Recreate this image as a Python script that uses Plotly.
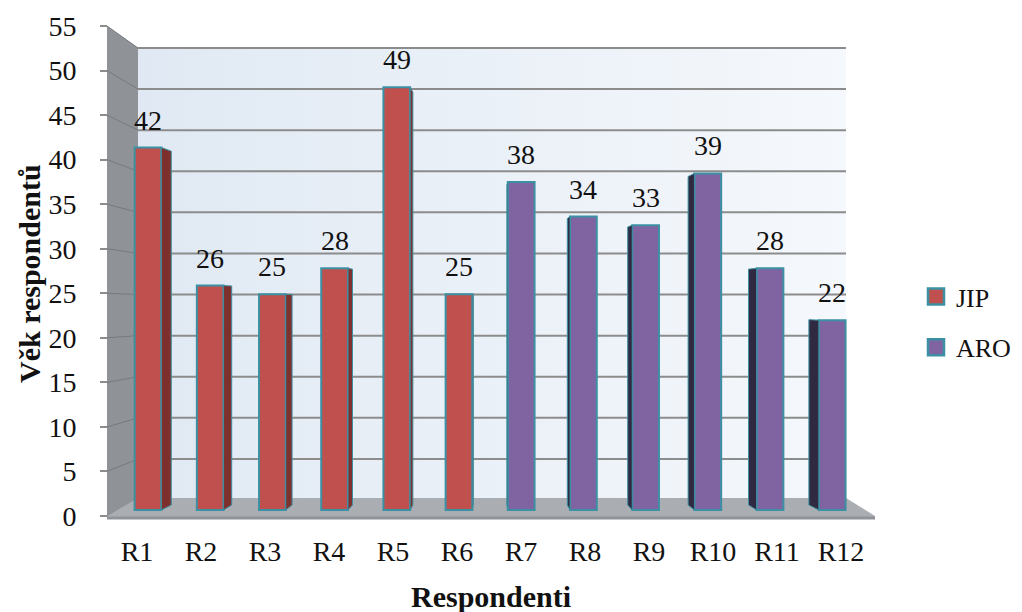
import plotly.graph_objects as go

# ---- data -------------------------------------------------------------
respondents = ["R1", "R2", "R3", "R4", "R5", "R6",
               "R7", "R8", "R9", "R10", "R11", "R12"]
jip_age = [42, 26, 25, 28, 49, 25]          # R1 - R6
aro_age = [38, 34, 33, 39, 28, 22]          # R7 - R12
y_ticks = list(range(0, 56, 5))

# ---- figure geometry (pixels) ---------------------------------------
W, H = 1022, 612
BAR_X0, BAR_DX = 148.0, 62.2      # centre of first bar, bar spacing
BAR_Y0, BAR_DY = 510.0, 8.63      # bar base line, pixels per year
LEFT_X, BACK_X0, BACK_X1, FLOOR_X1 = 107.0, 138.0, 846.0, 875.0
FRONT_Y0, FRONT_K = 516.0, 490.0 / 55    # value scale on front edge (axis)
BACK_Y0, BACK_K = 500.0, 452.0 / 55      # value scale on back wall
LABEL_X0, LABEL_DX = 137.0, 64.0         # category labels on floor edge
VANISH_X, SIDE_K = 490.0, 0.029          # perspective of bar side faces
BAR_W = 0.43

FONT = "Liberation Serif, Times New Roman, serif"
TEXT = "#111111"
JIP_COLOR, JIP_SIDE = "#c0504d", "#7e302e"
ARO_COLOR, ARO_SIDE = "#8064a2", "#2f2941"
EDGE = "#3b91a3"


def ux(px):
    return (px - BAR_X0) / BAR_DX


def uy(py):
    return (BAR_Y0 - py) / BAR_DY


def front_y(v):
    return FRONT_Y0 - v * FRONT_K


def back_y(v):
    return BACK_Y0 - v * BACK_K


def polygon(points):
    xs = [ux(p[0]) for p in points] + [ux(points[0][0])]
    ys = [uy(p[1]) for p in points] + [uy(points[0][1])]
    return xs, ys


X_RANGE = [ux(0), ux(W)]
Y_RANGE = [uy(H), uy(0)]

fig = go.Figure()

# ---- chart walls and floor (base subplot) ----------------------------
bx, by = polygon([(BACK_X0, back_y(55)), (BACK_X1, back_y(55)),
                  (BACK_X1, back_y(0)), (BACK_X0, back_y(0))])
fig.add_trace(go.Scatter(
    x=bx, y=by, mode="lines", fill="toself", line=dict(width=0),
    fillgradient=dict(type="horizontal",
                      colorscale=[[0, "#e0e9f3"], [1, "#f5f8fc"]]),
    hoverinfo="skip", showlegend=False))

wx, wy = polygon([(LEFT_X, front_y(55)), (BACK_X0, back_y(55)),
                  (BACK_X0, back_y(0)), (LEFT_X, front_y(0))])
fig.add_trace(go.Scatter(
    x=wx, y=wy, mode="lines", fill="toself", fillcolor="#8f9296",
    line=dict(width=0), hoverinfo="skip", showlegend=False))

# grid lines on the back wall and on the side wall
gx, gy, sx, sy = [], [], [], []
for v in y_ticks[1:]:
    gx += [ux(BACK_X0), ux(BACK_X1), None]
    gy += [uy(back_y(v)), uy(back_y(v)), None]
for v in y_ticks:
    sx += [ux(LEFT_X), ux(BACK_X0), None]
    sy += [uy(front_y(v)), uy(back_y(v)), None]
fig.add_trace(go.Scatter(x=gx, y=gy, mode="lines",
                         line=dict(color="#8c8c8c", width=2),
                         hoverinfo="skip", showlegend=False))
fig.add_trace(go.Scatter(x=sx, y=sy, mode="lines",
                         line=dict(color="#76797d", width=1),
                         hoverinfo="skip", showlegend=False))

fx, fy = polygon([(LEFT_X, front_y(0)), (BACK_X0, back_y(0) - 2),
                  (BACK_X1, back_y(0) - 2), (FLOOR_X1, front_y(0)),
                  (FLOOR_X1, front_y(0) + 3), (LEFT_X, front_y(0) + 3)])
fig.add_trace(go.Scatter(
    x=fx, y=fy, mode="lines", fill="toself", fillcolor="#aaadb1",
    line=dict(width=0), hoverinfo="skip", showlegend=False))
fig.add_trace(go.Scatter(
    x=[ux(LEFT_X), ux(FLOOR_X1)], y=[uy(front_y(0) + 2)] * 2,
    mode="lines", line=dict(color="#909397", width=3),
    hoverinfo="skip", showlegend=False))

# ---- bars (overlaid subplot) -----------------------------------------
jip_x = list(range(len(jip_age)))
aro_x = list(range(len(jip_age), len(jip_age) + len(aro_age)))


def side_faces(xs, vals):
    px, py = [], []
    for i, v in zip(xs, vals):
        xc = BAR_X0 + BAR_DX * i
        s = SIDE_K * (VANISH_X - xc)
        edge = xc + (BAR_W * BAR_DX / 2) * (1 if s >= 0 else -1)
        top = BAR_Y0 - v * BAR_DY
        top_back = top + 0.5 * (back_y(v) - top)
        pts = [(edge, BAR_Y0), (edge + s, BAR_Y0 - 5),
               (edge + s, top_back), (edge, top), (edge, BAR_Y0)]
        px += [ux(p[0]) for p in pts] + [None]
        py += [uy(p[1]) for p in pts] + [None]
    return px, py


for xs, vals, name, face, side in [
        (jip_x, jip_age, "JIP", JIP_COLOR, JIP_SIDE),
        (aro_x, aro_age, "ARO", ARO_COLOR, ARO_SIDE)]:
    fig.add_trace(go.Bar(
        x=xs, y=vals, name=name, width=BAR_W, xaxis="x2", yaxis="y2",
        marker=dict(color=face, line=dict(color=EDGE, width=2)),
        legendgroup=name, showlegend=False, hoverinfo="skip"))
    sxp, syp = side_faces(xs, vals)
    fig.add_trace(go.Scatter(
        x=sxp, y=syp, xaxis="x2", yaxis="y2", mode="lines",
        fill="toself", fillcolor=side, line=dict(color=EDGE, width=1),
        hoverinfo="skip", showlegend=False, legendgroup=name))
    # legend key: square swatch in the series colour
    fig.add_trace(go.Scatter(
        x=[None], y=[None], xaxis="x2", yaxis="y2", mode="markers",
        name=name, legendgroup=name, hoverinfo="skip",
        marker=dict(symbol="square", size=16, color=face,
                    line=dict(color=EDGE, width=2.5))))

# value labels above the bars
for xs, vals in [(jip_x, jip_age), (aro_x, aro_age)]:
    for i, v in zip(xs, vals):
        fig.add_annotation(x=i, y=v, xref="x2", yref="y2", text=str(v),
                           showarrow=False, xanchor="center",
                           yanchor="bottom", yshift=10,
                           font=dict(family=FONT, size=28, color=TEXT))

# ---- axes carrying tick labels ---------------------------------------
fig.add_trace(go.Scatter(x=[None], y=[None], xaxis="x3", yaxis="y3",
                         hoverinfo="skip", showlegend=False))

fig.update_layout(
    width=W, height=H, autosize=False,
    margin=dict(l=0, r=0, t=0, b=0),
    paper_bgcolor="white", plot_bgcolor="rgba(0,0,0,0)",
    barmode="overlay", hovermode=False,
    xaxis=dict(range=X_RANGE, domain=[0, 1], visible=False, fixedrange=True),
    yaxis=dict(range=Y_RANGE, domain=[0, 1], visible=False, fixedrange=True),
    xaxis2=dict(range=X_RANGE, overlaying="x", visible=False),
    yaxis2=dict(range=Y_RANGE, overlaying="y", visible=False),
    xaxis3=dict(
        range=[(0 - LABEL_X0) / LABEL_DX, (W - LABEL_X0) / LABEL_DX],
        overlaying="x", anchor="free", position=1 - 532 / H,
        tickmode="array", tickvals=list(range(len(respondents))),
        ticktext=respondents, ticks="", showline=False, showgrid=False,
        zeroline=False, tickfont=dict(family=FONT, size=28, color=TEXT)),
    yaxis3=dict(
        range=[(FRONT_Y0 - H) / FRONT_K, FRONT_Y0 / FRONT_K],
        overlaying="y", anchor="free", position=LEFT_X / W, side="left",
        tickmode="array", tickvals=y_ticks, ticks="outside", ticklen=7,
        tickcolor="#8c8c8c", tickwidth=1.5, ticklabelstandoff=18,
        showline=False, showgrid=False, zeroline=False,
        tickfont=dict(family=FONT, size=28, color=TEXT)),
    legend=dict(x=916 / W, y=1 - 322 / H, xanchor="left", yanchor="middle",
                font=dict(family=FONT, size=26, color=TEXT),
                itemsizing="trace", tracegroupgap=14,
                bgcolor="rgba(0,0,0,0)"),
)

fig.add_annotation(text="<b>Věk respondentů</b>", xref="paper", yref="paper",
                   x=29 / W, y=1 - 274 / H, textangle=-90, showarrow=False,
                   xanchor="center", yanchor="middle",
                   font=dict(family=FONT, size=30, color=TEXT))
fig.add_annotation(text="<b>Respondenti</b>", xref="paper", yref="paper",
                   x=491 / W, y=1 - 596 / H, showarrow=False,
                   xanchor="center", yanchor="middle",
                   font=dict(family=FONT, size=30, color=TEXT))

fig.write_html("out.html")
